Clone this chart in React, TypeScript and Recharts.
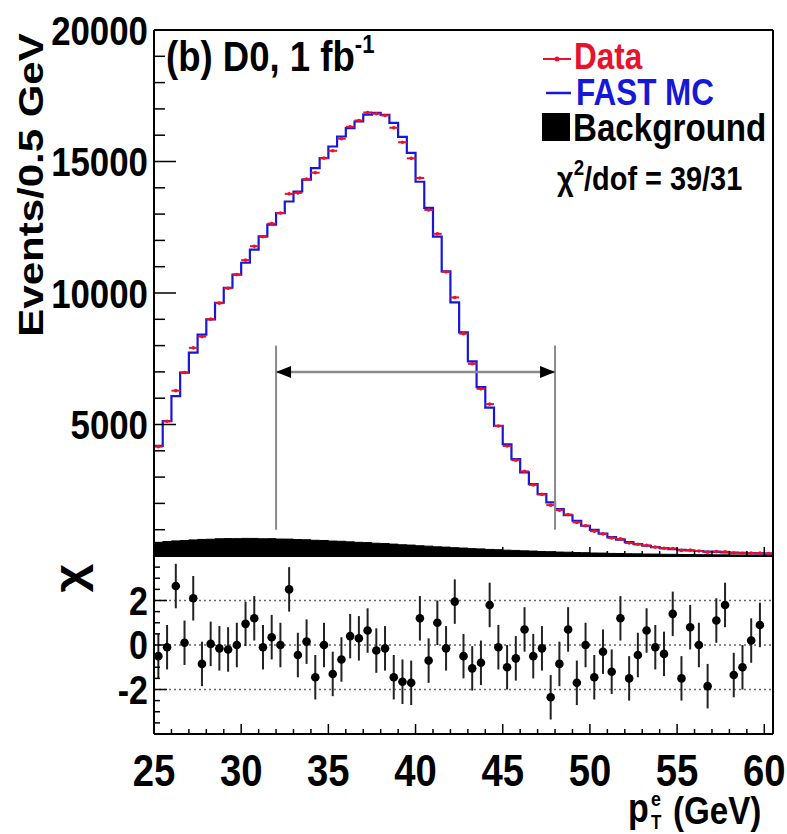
import React from "react";
import {
  Area,
  ComposedChart,
  ErrorBar,
  Line,
  ReferenceDot,
  ReferenceLine,
  Scatter,
  XAxis,
  YAxis,
} from "recharts";

// 0.5 GeV bins, lower edges 25.0 ... 60.0
const binLow = Array.from({ length: 71 }, (_, i) => 25 + i * 0.5);

const mcCounts = [
  4190, 5130, 6080, 6970, 7730, 8420, 9000, 9630, 10200, 10700, 11150, 11650,
  12150, 12600, 13040, 13480, 13860, 14310, 14750, 15130, 15570, 15950, 16270,
  16520, 16780, 16850, 16770, 16470, 15940, 15330, 14230, 13240, 12140, 10820,
  9640, 8500, 7400, 6420, 5640, 4950, 4250, 3680, 3180, 2730, 2350, 2040, 1780,
  1550, 1340, 1150, 990, 850, 720, 620, 530, 455, 390, 340, 300, 265, 235, 210,
  190, 170, 155, 140, 128, 118, 108, 100, 92,
];

const dataCounts = [
  4158, 5123, 6287, 6978, 7915, 8342, 9005, 9615, 10180, 10700, 11250, 11780,
  12139, 12639, 13040, 13770, 13807, 14328, 14574, 15130, 15408, 15868, 16321,
  16559, 16864, 16818, 16751, 16284, 15732, 15120, 14373, 13159, 12250, 10804,
  9831, 8454, 7310, 6356, 5775, 4943, 4185, 3644, 3219, 2704, 2343, 1934, 1744,
  1578, 1278, 1150, 944, 841, 688, 650, 495, 445, 403, 338, 293, 288, 212, 222,
  190, 146, 169, 161, 113, 107, 110, 109, 95,
];

const bkgCounts = [
  520, 548, 575, 588, 612, 630, 638, 655, 662, 660, 670, 668, 655, 660, 645,
  642, 625, 618, 598, 590, 568, 560, 538, 520, 510, 485, 472, 452, 428, 415,
  390, 375, 350, 338, 316, 302, 280, 270, 250, 240, 222, 212, 196, 188, 172,
  165, 150, 144, 131, 126, 114, 110, 99, 95, 86, 83, 75, 73, 66, 64, 58, 56, 51,
  50, 45, 44, 40, 39, 36, 35, 33,
];

const chiValues = [
  -0.5, -0.1, 2.65, 0.1, 2.1, -0.85, 0.05, -0.15, -0.2, 0.0, 0.95, 1.2, -0.1,
  0.35, 0.0, 2.5, -0.45, 0.15, -1.45, 0.0, -1.3, -0.65, 0.4, 0.3, 0.65, -0.25,
  -0.15, -1.45, -1.65, -1.7, 1.2, -0.7, 1.0, -0.15, 1.95, -0.5, -1.05, -0.8,
  1.8, -0.1, -1.0, -0.6, 0.7, -0.5, -0.15, -2.35, -0.85, 0.7, -1.7, 0.0, -1.45,
  -0.3, -1.2, 1.2, -1.5, -0.45, 0.65, -0.1, -0.4, 1.4, -1.5, 0.8, 0.0, -1.85,
  1.1, 1.8, -1.35, -1.0, 0.2, 0.9,
];

const xMajor = [25, 30, 35, 40, 45, 50, 55, 60];
const xMinor = [
  26, 27, 28, 29, 31, 32, 33, 34, 36, 37, 38, 39, 41, 42, 43, 44, 46, 47, 48,
  49, 51, 52, 53, 54, 56, 57, 58, 59,
];
const yMajor = [5000, 10000, 15000, 20000];
const yMinor = [
  1000, 2000, 3000, 4000, 6000, 7000, 8000, 9000, 11000, 12000, 13000, 14000,
  16000, 17000, 18000, 19000,
];
const chiMajor = [-2, 0, 2];
const chiMinor = [-3.5, -3, -2.5, -1.5, -1, -0.5, 0.5, 1, 1.5, 2.5, 3, 3.5];

const FONT = "'Liberation Sans', Arial, sans-serif";
const SX = 0.85;
const RED = "#e8122d";
const BLUE = "#1717d8";
const X_DOMAIN: [number, number] = [25, 60.5];

const stepRows = [
  ...binLow.map((x, i) => ({ x, mc: mcCounts[i], bkg: bkgCounts[i] })),
  { x: 60.5, mc: mcCounts[70], bkg: bkgCounts[70] },
];
const dataPoints = binLow.map((x, i) => ({ x: x + 0.25, y: dataCounts[i], ex: 0.25 }));
const chiPoints = chiValues.map((v, i) => ({ x: binLow[i] + 0.25, y: v, e: 1 }));

// left axis: tick drawn inward from the frame, label to the left for majors
const leftTick = (majors: number[], majorLen: number, minorLen: number, size: number) =>
  (p: any) => {
    const v = p.payload.value;
    const major = majors.includes(v);
    return (
      <g>
        <line x1={p.x} x2={p.x + (major ? majorLen : minorLen)} y1={p.y} y2={p.y} stroke="#000" strokeWidth={1.5} />
        {major && (
          <text transform={`translate(${p.x - 6},${p.y + size * 0.36}) scale(${SX},1)`} textAnchor="end"
            fontSize={size} fontWeight="bold" fontFamily={FONT} fill="#000">
            {v}
          </text>
        )}
      </g>
    );
  };

// bottom axis: tick drawn upward from the frame, optional label below
const bottomTick = (majorLen: number, minorLen: number, size: number, gap: number) =>
  (p: any) => {
    const v = p.payload.value;
    const major = xMajor.includes(v);
    return (
      <g>
        <line x1={p.x} x2={p.x} y1={p.y} y2={p.y - (major ? majorLen : minorLen)} stroke="#000" strokeWidth={1.5} />
        {major && size > 0 && (
          <text transform={`translate(${p.x},${p.y + gap}) scale(${SX},1)`} textAnchor="middle"
            fontSize={size} fontWeight="bold" fontFamily={FONT} fill="#000">
            {v}
          </text>
        )}
      </g>
    );
  };

function T({ x, y, size, fill = "#000", anchor = "start", rotate = false, children }: any) {
  const tr = rotate
    ? `translate(${x},${y}) scale(${SX},1) rotate(-90)`
    : `translate(${x},${y}) scale(${SX},1)`;
  return (
    <text transform={tr} fontSize={size} fontWeight="bold" fontFamily={FONT} fill={fill} textAnchor={anchor}>
      {children}
    </text>
  );
}

const frame = { stroke: "#000", strokeWidth: 2 };
const allX = [...xMajor, ...xMinor].sort((a, b) => a - b);

export default function App() {
  return (
    <div style={{ position: "absolute", left: 0, top: 0, width: 787, height: 834, background: "#fff" }}>
      <div style={{ position: "absolute", left: 0, top: 0 }}>
        <ComposedChart width={787} height={560} data={stepRows} margin={{ top: 29, right: 13, bottom: 3, left: 153 }}>
          <XAxis type="number" dataKey="x" domain={X_DOMAIN} allowDataOverflow ticks={allX} interval={0}
            tickSize={0} tickMargin={0} tickLine={false} tick={bottomTick(9, 5, 0, 0)} axisLine={frame} height={1} />
          <XAxis xAxisId="xt" orientation="top" type="number" dataKey="x" domain={X_DOMAIN} allowDataOverflow
            ticks={xMajor} tick={false} tickLine={false} axisLine={frame} height={1} />
          <YAxis type="number" domain={[0, 20000]} allowDataOverflow ticks={[...yMinor, ...yMajor]} interval={0}
            tickSize={0} tickMargin={0} tickLine={false} tick={leftTick(yMajor, 22, 11, 41)} axisLine={frame} width={1} />
          <YAxis yAxisId="yr" orientation="right" type="number" domain={[0, 20000]} allowDataOverflow
            ticks={yMajor} tick={false} tickLine={false} axisLine={frame} width={1} />

          <Area dataKey="bkg" type="stepAfter" fill="#000" fillOpacity={1} stroke="#000" strokeWidth={1}
            isAnimationActive={false} dot={false} activeDot={false} />
          <Line dataKey="mc" type="stepAfter" stroke={BLUE} strokeWidth={2.2} dot={false} activeDot={false}
            isAnimationActive={false} />
          <Scatter data={dataPoints} dataKey="y" isAnimationActive={false}
            shape={(p: any) => <circle cx={p.cx} cy={p.cy} r={1.8} fill={RED} />}>
            <ErrorBar dataKey="ex" direction="x" width={0} stroke={RED} strokeWidth={2} isAnimationActive={false} />
          </Scatter>

          <ReferenceLine segment={[{ x: 32, y: 1000 }, { x: 32, y: 8000 }]} stroke="#8a8a8a" strokeWidth={2} />
          <ReferenceLine segment={[{ x: 48, y: 1000 }, { x: 48, y: 8000 }]} stroke="#8a8a8a" strokeWidth={2} />
          <ReferenceLine segment={[{ x: 32, y: 7000 }, { x: 48, y: 7000 }]} stroke="#8a8a8a" strokeWidth={2.5} />
          <ReferenceDot x={32} y={7000} shape={(p: any) => (
            <polygon points={`${p.cx},${p.cy} ${p.cx + 15},${p.cy - 6} ${p.cx + 15},${p.cy + 6}`} fill="#000" />
          )} />
          <ReferenceDot x={48} y={7000} shape={(p: any) => (
            <polygon points={`${p.cx},${p.cy} ${p.cx - 15},${p.cy - 6} ${p.cx - 15},${p.cy + 6}`} fill="#000" />
          )} />
        </ComposedChart>
      </div>

      <div style={{ position: "absolute", left: 0, top: 540 }}>
        <ComposedChart width={787} height={294} margin={{ top: 16, right: 13, bottom: 99, left: 153 }}>
          <XAxis type="number" dataKey="x" domain={X_DOMAIN} allowDataOverflow ticks={allX} interval={0}
            tickSize={0} tickMargin={0} tickLine={false} tick={bottomTick(10, 5, 45, 52)} axisLine={frame} height={1} />
          <YAxis type="number" domain={[-4, 4]} allowDataOverflow ticks={[...chiMinor, ...chiMajor]} interval={0}
            tickSize={0} tickMargin={0} tickLine={false} tick={leftTick(chiMajor, 13, 6, 40)} axisLine={frame} width={1} />
          <YAxis yAxisId="yr" orientation="right" type="number" domain={[-4, 4]} allowDataOverflow
            ticks={chiMajor} tick={false} tickLine={false} axisLine={frame} width={1} />

          {chiMajor.map((v) => (
            <ReferenceLine key={v} y={v} stroke="#666" strokeWidth={1.5} strokeDasharray="2 3" />
          ))}
          <Scatter data={chiPoints} dataKey="y" isAnimationActive={false}
            shape={(p: any) => <circle cx={p.cx} cy={p.cy} r={4.3} fill="#000" />}>
            <ErrorBar dataKey="e" direction="y" width={0} stroke="#222" strokeWidth={2} isAnimationActive={false} />
          </Scatter>
        </ComposedChart>
      </div>

      <svg width={787} height={834} style={{ position: "absolute", left: 0, top: 0, pointerEvents: "none" }}>
        <T x={43} y={185} size={42} anchor="middle" rotate>Events/0.5 GeV</T>
        <T x={84} y={578} size={50} anchor="middle" rotate>χ</T>

        <text transform={`translate(166,71) scale(${SX},1)`} fontSize={43} fontWeight="bold" fontFamily={FONT}>
          (b) D0, 1 fb
          <tspan fontSize={26} dy={-18}>-1</tspan>
        </text>

        <line x1={543} x2={571} y1={59} y2={59} stroke={RED} strokeWidth={2} />
        <circle cx={557} cy={59} r={2.5} fill={RED} />
        <T x={574} y={69} size={37} fill={RED}>Data</T>

        <line x1={546} x2={571} y1={93} y2={93} stroke={BLUE} strokeWidth={2.5} />
        <T x={576} y={105} size={37} fill={BLUE}>FAST MC</T>

        <rect x={542} y={113} width={28} height={28} fill="#000" />
        <T x={573} y={141} size={39}>Background</T>

        <text transform={`translate(557,190) scale(${SX},1)`} fontSize={34} fontWeight="bold" fontFamily={FONT}>
          χ<tspan fontSize={22} dy={-15}>2</tspan>
          <tspan dy={15}>/dof = 39/31</tspan>
        </text>

        <T x={628} y={822} size={40}>p</T>
        <T x={651} y={829} size={20}>T</T>
        <T x={651} y={806} size={21}>e</T>
        <T x={673} y={824} size={39}>(GeV)</T>
      </svg>
    </div>
  );
}
